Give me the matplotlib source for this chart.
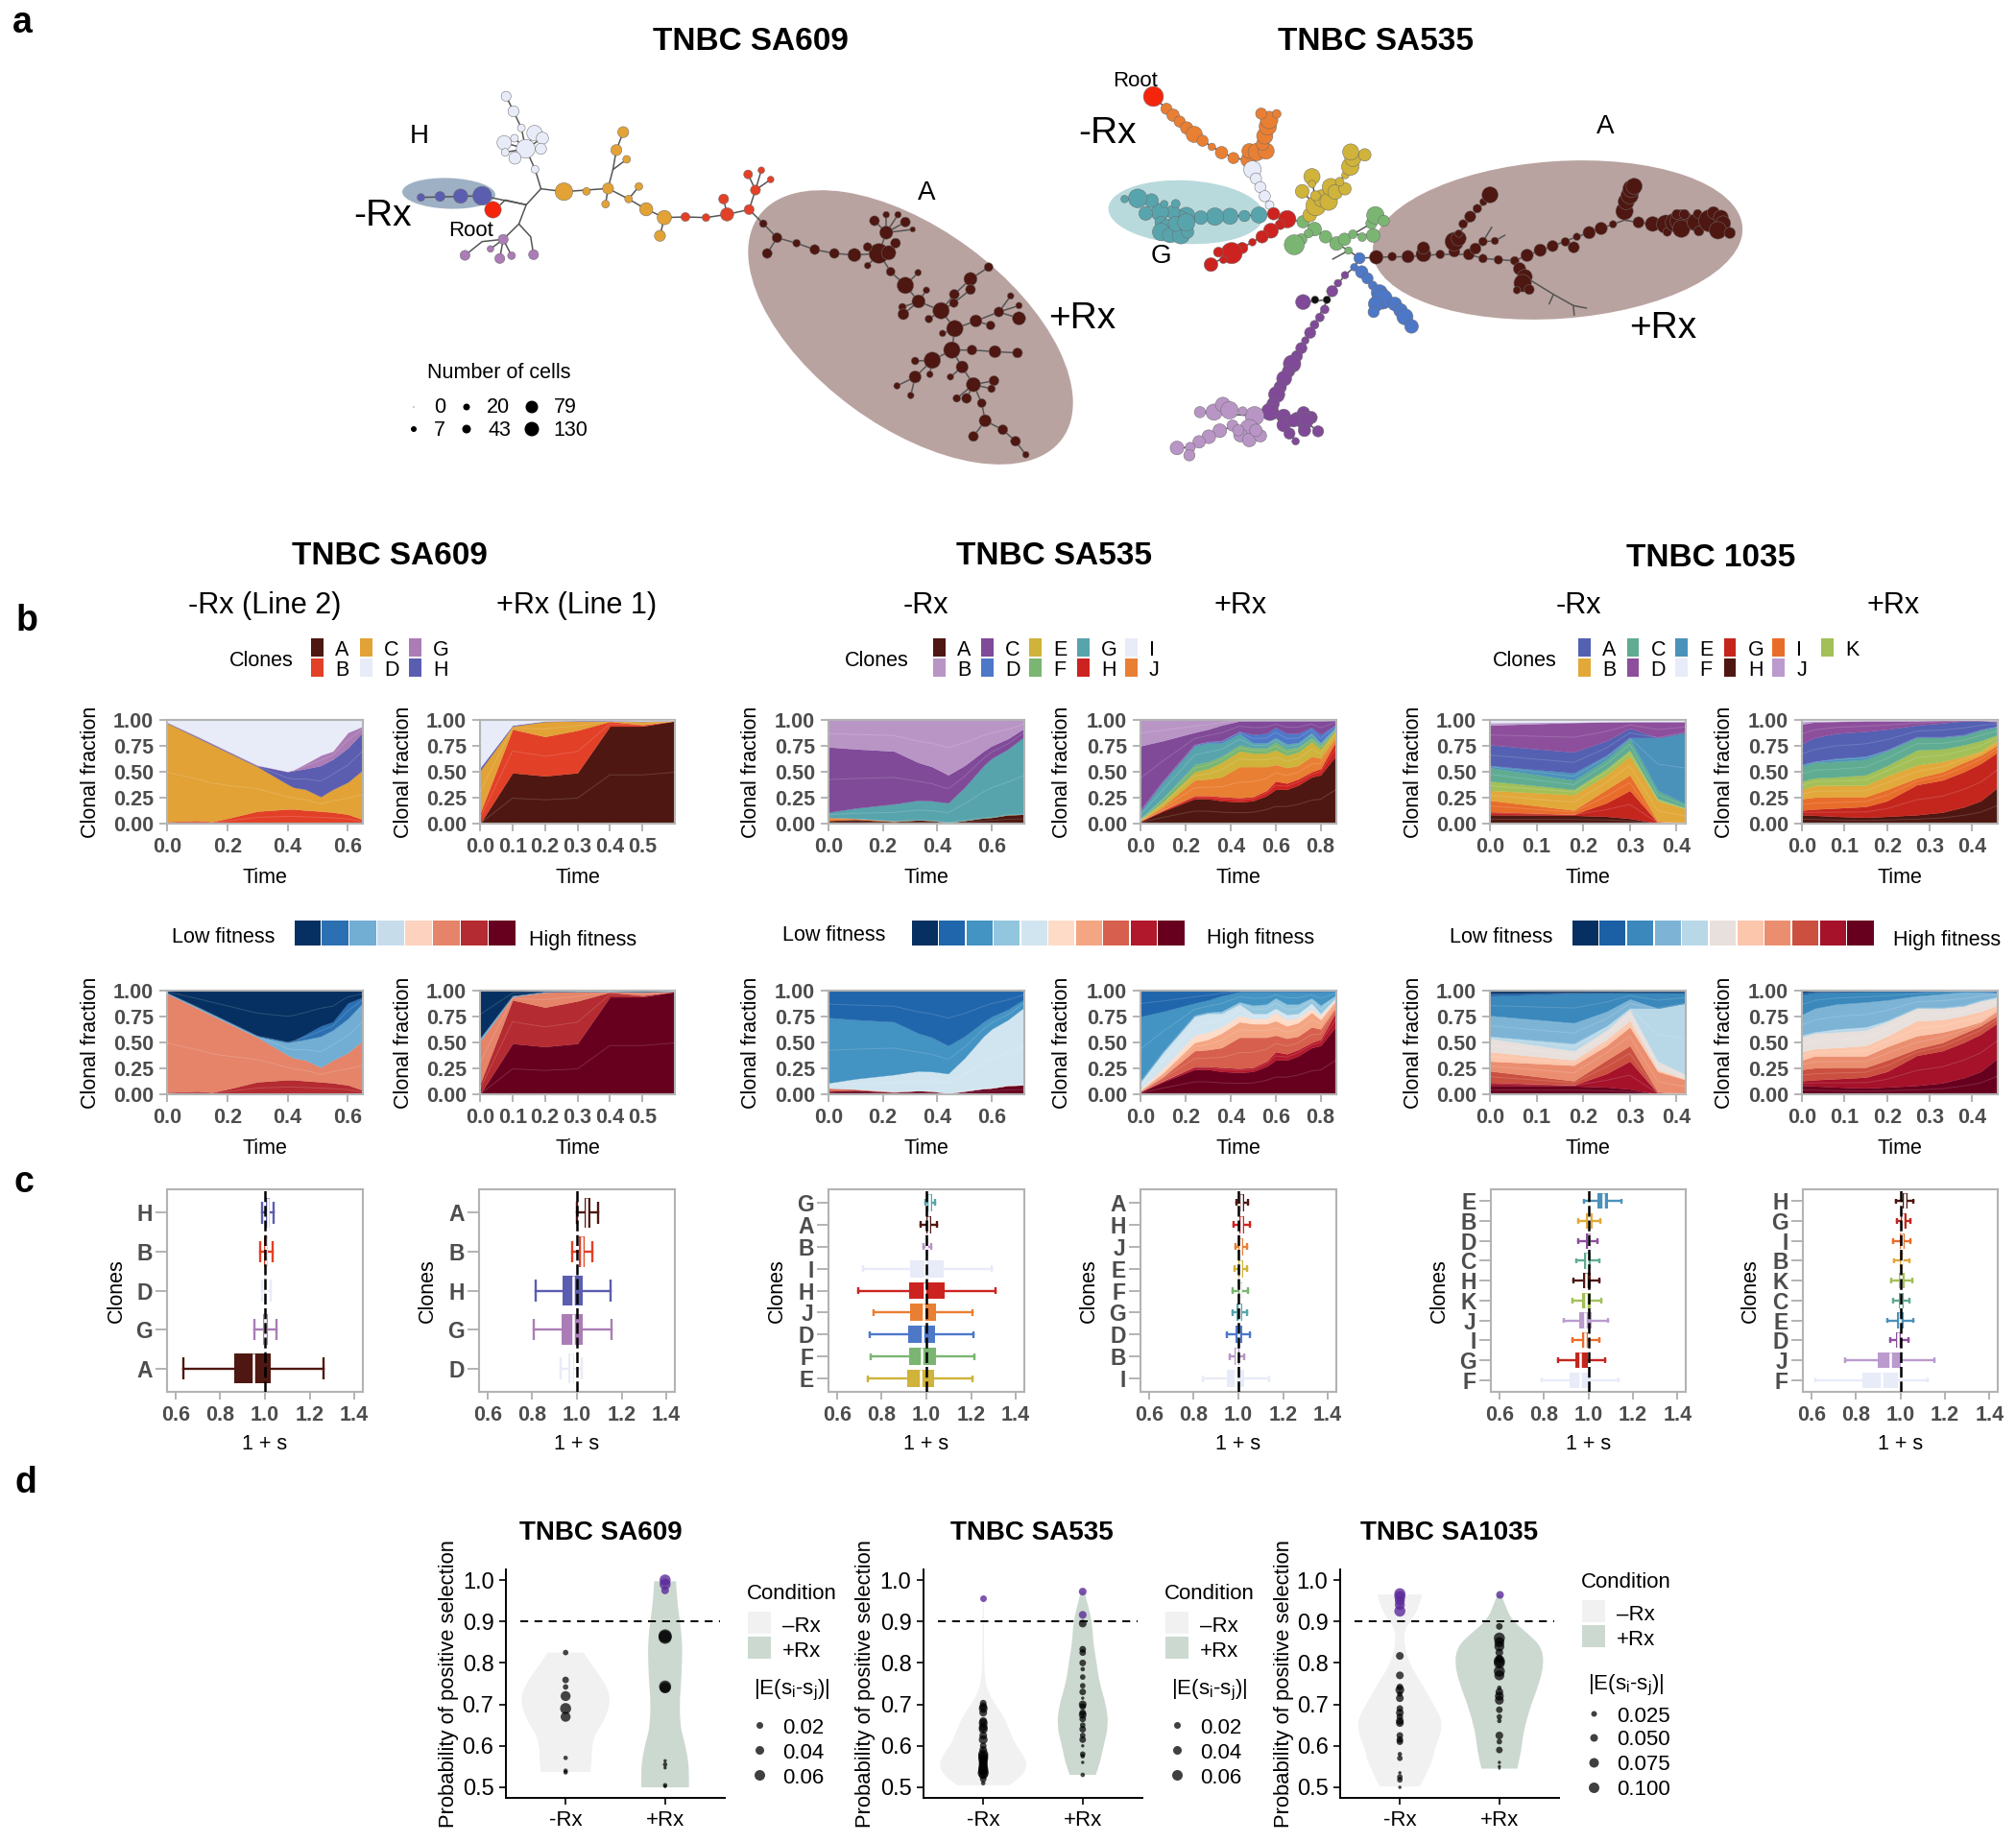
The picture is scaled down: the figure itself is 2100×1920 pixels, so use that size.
import matplotlib
matplotlib.use('Agg')
import matplotlib.pyplot as plt
from matplotlib.patches import Ellipse, Rectangle, PathPatch
from matplotlib.path import Path

plt.rcParams['font.family'] = ['Liberation Sans', 'DejaVu Sans']

W, H = 2100, 1920
PT = 0.72

# ---- clone colours
BROWN = '#4f1711'
PALE = '#e8ebf8'
SA609_COL = {'A': BROWN, 'B': '#e24027', 'C': '#e2a236', 'D': PALE, 'G': '#ab7cb6', 'H': '#5b5db0'}
SA535_COL = {'A': BROWN, 'B': '#b995c6', 'C': '#804a98', 'D': '#4d78c8', 'E': '#cfb33a', 'F': '#7ab672',
             'G': '#58a4ad', 'H': '#cd2320', 'I': PALE, 'J': '#e97f33'}
SA1035_COL = {'A': '#5460b2', 'B': '#e2a83a', 'C': '#5fac93', 'D': '#8d4f9c', 'E': '#4b92bb', 'F': PALE,
              'G': '#c4261e', 'H': BROWN, 'I': '#e86d2a', 'J': '#bb9bcd', 'K': '#a2c057'}

FIT8 = ['#053061', '#2b70b2', '#72aed4', '#c6dcea', '#fdd2be', '#e58469', '#b42b31', '#67001f']
FIT10 = ['#053061', '#2066ac', '#4393c3', '#92c5de', '#d1e5f0', '#fddbc7', '#f4a582', '#d6604d', '#b2182b', '#67001f']
FIT11 = ['#053061', '#1b5fa5', '#3a88bc', '#7db4d6', '#b8d8e8', '#e8e0dc', '#fbc6ab', '#eb8e70', '#cb5040', '#a5122a', '#67001f']

SA609_FIT = {'A': FIT8[7], 'B': FIT8[6], 'C': FIT8[5], 'H': FIT8[2], 'G': FIT8[1], 'D': FIT8[0]}
SA535_FIT = {'A': FIT10[9], 'H': FIT10[8], 'J': FIT10[7], 'E': FIT10[6], 'F': FIT10[5], 'G': FIT10[4],
             'D': FIT10[3], 'C': FIT10[2], 'B': FIT10[1], 'I': FIT10[0]}
SA1035_FIT = {'H': FIT11[10], 'G': FIT11[9], 'I': FIT11[8], 'B': FIT11[7], 'K': FIT11[6], 'C': FIT11[5],
              'E': FIT11[4], 'A': FIT11[3], 'D': FIT11[2], 'J': FIT11[1], 'F': FIT11[0]}

# ---- stacked clonal fractions, upper edge of every band, bottom band first
SA609_NEG_T = [0, .1, .15, .2, .3, .4, .42, .46, .51, .55, .6, .65]
SA609_NEG_ORDER = ['B', 'C', 'H', 'G', 'D']
SA609_NEG_TOPS = [
    [.02, .03, .02, .05, .12, .14, .14, .13, .12, .11, .09, .04],
    [.97, .83, .76, .69, .55, .38, .35, .33, .26, .33, .40, .52],
    [.975, .84, .77, .70, .56, .50, .51, .53, .56, .62, .73, .885],
    [.98, .845, .775, .705, .565, .505, .52, .58, .66, .70, .88, .94],
    [1, 1, 1, 1, 1, 1, 1, 1, 1, 1, 1, 1]]

SA609_POS_T = [0, .1, .2, .3, .4, .5, .6]
SA609_POS_ORDER = ['A', 'B', 'C', 'H', 'D']
SA609_POS_TOPS = [
    [0, .49, .46, .49, .94, .94, .99],
    [.10, .91, .84, .90, .985, .955, .99],
    [.51, .94, .985, .99, .99, .985, .995],
    [.54, .95, .99, .995, .995, .99, .995],
    [1, 1, 1, 1, 1, 1, 1]]

SA535_NEG_T = [0, .1, .24, .33, .38, .44, .5, .57, .6, .66, .72]
SA535_NEG_ORDER = ['A', 'J', 'G', 'C', 'B']
SA535_NEG_TOPS = [
    [.03, .04, .02, .035, .03, .01, .03, .055, .06, .085, .09],
    [.06, .05, .025, .035, .03, .01, .03, .055, .06, .085, .09],
    [.11, .15, .19, .225, .22, .20, .35, .56, .63, .72, .84],
    [.74, .72, .70, .59, .55, .47, .56, .70, .75, .82, .92],
    [1, 1, 1, 1, 1, 1, 1, 1, 1, 1, 1]]

SA535_POS_T = [0, .1, .24, .3, .36, .44, .5, .56, .6, .65, .7, .76, .8, .87]
SA535_POS_ORDER = ['A', 'H', 'J', 'E', 'F', 'G', 'D', 'C', 'B']
SA535_POS_TOPS = [
    [.02, .12, .24, .24, .22, .21, .22, .27, .33, .33, .37, .45, .47, .66],
    [.025, .13, .27, .27, .26, .25, .26, .32, .41, .39, .43, .50, .53, .80],
    [.03, .17, .42, .43, .45, .55, .55, .55, .57, .54, .56, .65, .63, .85],
    [.04, .21, .50, .53, .59, .70, .68, .68, .71, .66, .69, .79, .72, .91],
    [.05, .25, .57, .60, .65, .76, .73, .73, .79, .72, .74, .83, .76, .92],
    [.12, .40, .75, .78, .78, .87, .78, .78, .83, .77, .78, .88, .78, .94],
    [.125, .41, .76, .79, .80, .89, .86, .87, .93, .87, .87, .93, .86, .96],
    [.75, .80, .88, .91, .95, .99, .99, .99, .99, .99, .99, .99, .99, .995],
    [1, 1, 1, 1, 1, 1, 1, 1, 1, 1, 1, 1, 1, 1]]

SA1035_NEG_T = [0, .18, .25, .3, .36, .42]
SA1035_ORDER = ['H', 'G', 'I', 'B', 'K', 'C', 'E', 'A', 'D', 'J', 'F']
SA1035_NEG_TOPS = [
    [.085, .08, .07, .05, .005, 0],
    [.115, .09, .2, .32, .01, 0],
    [.225, .13, .33, .47, .025, .005],
    [.32, .28, .47, .65, .22, .14],
    [.41, .33, .53, .71, .24, .15],
    [.54, .42, .62, .82, .32, .19],
    [.56, .49, .66, .83, .83, .88],
    [.76, .69, .80, .92, .83, .88],
    [.95, .975, .98, .985, .985, .985],
    [.975, .98, .985, .985, .985, .985],
    [1, 1, 1, 1, 1, 1]]

SA1035_POS_T = [0, .03, .08, .15, .2, .27, .33, .38, .42, .46]
SA1035_POS_TOPS = [
    [.085, .08, .07, .06, .07, .085, .11, .16, .22, .35],
    [.13, .14, .15, .165, .22, .375, .42, .50, .58, .69],
    [.24, .255, .26, .26, .33, .44, .50, .59, .66, .76],
    [.33, .37, .37, .37, .46, .565, .60, .65, .70, .81],
    [.41, .44, .45, .47, .56, .71, .72, .76, .80, .86],
    [.55, .59, .60, .62, .70, .83, .83, .85, .90, .93],
    [.57, .60, .63, .65, .71, .835, .835, .855, .905, .94],
    [.77, .83, .87, .89, .91, .95, .97, .99, .99, .98],
    [.96, .98, .985, .99, .99, .99, .995, .995, .995, .985],
    [.985, .99, .99, .995, .995, .995, 1, 1, 1, 1],
    [1, 1, 1, 1, 1, 1, 1, 1, 1, 1]]

# ---- boxes: whisker low, q1, median, q3, whisker high, listed top to bottom
SA609_NEG_BOX_LABELS = ['H', 'B', 'D', 'G', 'A']
SA609_NEG_BOX = [[.986, 1.003, 1.012, 1.023, 1.04], [.977, .995, 1.005, 1.015, 1.033],
                 [.985, .995, 1.005, 1.012, 1.026], [.952, .99, 1.0, 1.015, 1.053],
                 [.636, .864, .95, 1.027, 1.262]]
SA609_POS_BOX_LABELS = ['A', 'B', 'H', 'G', 'D']
SA609_POS_BOX = [[1.0, 1.034, 1.045, 1.06, 1.094], [.98, 1.01, 1.022, 1.036, 1.067],
                 [.814, .937, .982, 1.025, 1.152], [.805, .933, .982, 1.025, 1.155],
                 [.928, .962, .975, .985, 1.022]]
SA535_NEG_BOX_LABELS = ['G', 'A', 'B', 'I', 'H', 'J', 'D', 'F', 'E']
SA535_NEG_BOX = [[.995, 1.006, 1.015, 1.024, 1.039], [.974, 1.0, 1.01, 1.02, 1.048],
                 [.985, .994, 1.001, 1.01, 1.022], [.717, .927, .997, 1.077, 1.29],
                 [.695, .921, .992, 1.08, 1.31], [.764, .929, .986, 1.042, 1.205],
                 [.746, .918, .983, 1.039, 1.209], [.751, .923, .979, 1.044, 1.214],
                 [.74, .914, .976, 1.035, 1.207]]
SA535_POS_BOX_LABELS = ['A', 'H', 'J', 'E', 'F', 'G', 'D', 'B', 'I']
SA535_POS_BOX = [[.993, 1.007, 1.014, 1.025, 1.042], [.98, 1.004, 1.013, 1.025, 1.05],
                 [.986, 1.0, 1.009, 1.02, 1.038], [.984, .998, 1.007, 1.02, 1.038],
                 [.975, .998, 1.007, 1.018, 1.043], [.975, .993, 1.004, 1.016, 1.038],
                 [.95, .986, .998, 1.016, 1.052], [.962, .982, .993, 1.004, 1.027],
                 [.841, .95, .986, 1.027, 1.136]]
SA1035_NEG_BOX_LABELS = ['E', 'B', 'D', 'C', 'H', 'K', 'J', 'I', 'G', 'F']
SA1035_NEG_BOX = [[.981, 1.04, 1.065, 1.089, 1.148], [.956, .99, 1.003, 1.019, 1.052],
                  [.956, .99, 1.0, 1.012, 1.042], [.946, .981, .993, 1.012, 1.049],
                  [.935, .977, .99, 1.009, 1.051], [.927, .974, .988, 1.01, 1.058],
                  [.888, .96, .986, 1.016, 1.087], [.928, .972, .986, .997, 1.049],
                  [.864, .941, .963, .998, 1.077], [.789, .916, .963, 1.009, 1.136]]
SA1035_POS_BOX_LABELS = ['H', 'G', 'I', 'B', 'K', 'C', 'E', 'D', 'J', 'F']
SA1035_POS_BOX = [[.981, 1.009, 1.019, 1.031, 1.059], [.984, 1.003, 1.012, 1.026, 1.047],
                  [.969, .998, 1.007, 1.019, 1.045], [.972, .997, 1.005, 1.017, 1.042],
                  [.96, .993, 1.003, 1.019, 1.052], [.969, .993, 1.003, 1.016, 1.042],
                  [.942, .984, .998, 1.016, 1.058], [.956, .981, .991, 1.003, 1.037],
                  [.752, .90, .953, 1.0, 1.154], [.619, .83, .916, .988, 1.122]]

# ---- violins: probability, half width
V609_NEG_Y = [.537, .56, .6, .63, .65, .68, .71, .74, .77, .8, .825]
V609_NEG_W = [.25, .26, .265, .30, .36, .42, .45, .42, .34, .25, .18]
V609_POS_Y = [.5, .53, .56, .6, .63, .65, .7, .75, .8, .85, .9, .95, .997]
V609_POS_W = [.24, .24, .235, .205, .17, .155, .145, .16, .17, .172, .15, .12, .11]
V535_NEG_Y = [.505, .52, .55, .58, .6, .64, .67, .7, .73, .76, .8, .9, .957]
V535_NEG_W = [.26, .36, .45, .40, .33, .26, .21, .12, .05, .02, .008, .008, .006]
V535_POS_Y = [.53, .55, .6, .65, .7, .75, .8, .85, .9, .95, .972]
V535_POS_W = [.13, .165, .21, .26, .235, .17, .14, .105, .095, .04, .02]
V1035_NEG_Y = [.502, .55, .6, .62, .66, .7, .75, .8, .85, .88, .9, .93, .965]
V1035_NEG_W = [.2, .31, .36, .4, .43, .34, .22, .09, .04, .05, .10, .19, .225]
V1035_POS_Y = [.545, .58, .62, .65, .7, .75, .8, .84, .87, .9, .93, .965]
V1035_POS_W = [.18, .215, .235, .26, .32, .4, .45, .42, .29, .14, .07, .02]

# ---- points: probability, dot size in pixels
P609_NEG = [(.825, 5), (.759, 6), (.742, 5), (.72, 9), (.69, 10), (.67, 9), (.571, 4), (.54, 4), (.536, 4)]
P609_POS = [(1.0, 10), (.99, 10), (.975, 7), (.865, 12), (.862, 12), (.743, 11), (.74, 10),
            (.564, 3), (.555, 4), (.547, 3), (.505, 4), (.502, 3)]
P535_NEG = [(.957, 6), (.703, 6), (.695, 7), (.69, 8), (.68, 7), (.66, 7), (.655, 8), (.645, 8), (.64, 8),
            (.625, 7), (.615, 8), (.6, 6), (.59, 7), (.58, 9), (.575, 9), (.57, 9), (.565, 8), (.56, 8),
            (.555, 8), (.55, 8), (.545, 9), (.54, 9), (.535, 10), (.53, 8), (.52, 6), (.51, 4)]
P535_POS = [(.972, 7), (.916, 7), (.895, 7), (.833, 6), (.825, 6), (.8, 6), (.785, 4), (.766, 5), (.745, 5),
            (.73, 6), (.715, 3), (.7, 7), (.695, 6), (.68, 6), (.675, 7), (.665, 6), (.65, 5), (.64, 6),
            (.625, 5), (.615, 6), (.6, 3), (.58, 5), (.575, 4), (.56, 3), (.53, 4)]
P1035_NEG = [(.967, 10), (.96, 10), (.95, 9), (.94, 9), (.925, 10), (.817, 7), (.77, 7), (.742, 6), (.735, 8),
             (.725, 5), (.715, 7), (.69, 6), (.68, 7), (.67, 6), (.66, 7), (.655, 7), (.625, 6), (.615, 6),
             (.61, 6), (.58, 4), (.57, 5), (.535, 3), (.525, 5), (.518, 5), (.5, 3)]
P1035_POS = [(.966, 7), (.888, 6), (.86, 10), (.85, 9), (.84, 9), (.825, 7), (.81, 7), (.805, 10), (.8, 10),
             (.78, 10), (.77, 9), (.74, 4), (.73, 7), (.72, 8), (.71, 8), (.687, 6), (.67, 5), (.66, 4),
             (.625, 7), (.61, 5), (.59, 6), (.56, 3), (.55, 3), (.545, 2)]

# ---- trees: x, y on the crop grid, dot size in pixels
T1_D = [(367, 121, 9), (382, 168, 10), (398, 220, 7), (425, 236, 14), (441, 252, 11), (363, 266, 13), (384, 252, 7),
        (407, 285, 17), (438, 285, 10), (365, 296, 7), (385, 314, 11), (426, 349, 7)]
T1_C = [(485, 419, 16), (531, 418, 7), (575, 409, 10), (606, 233, 10), (592, 289, 10), (613, 318, 7), (570, 458, 7),
        (617, 442, 7), (638, 403, 7), (653, 474, 12), (690, 500, 13), (681, 557, 10)]
T1_B = [(733, 498, 8), (775, 500, 7), (818, 490, 12), (863, 475, 9), (811, 442, 9), (876, 414, 9), (861, 365, 8),
        (888, 352, 6), (907, 381, 6)]
T1_H = [(193, 437, 7), (232, 434, 9), (274, 433, 13), (318, 432, 17)]
T1_ROOT = [(339, 474, 15)]
T1_G = [(361, 568, 9), (335, 598, 6), (283, 618, 9), (354, 628, 9), (378, 619, 7), (423, 616, 9)]
T1_A = [(892, 519, 7), (920, 563, 9), (900, 612, 9), (960, 580, 7), (997, 600, 9), (1037, 612, 9), (1078, 617, 12),
        (1128, 612, 18), (1148, 610, 13), (1105, 592, 8), (1105, 650, 6), (1143, 547, 12), (1119, 510, 9),
        (1143, 491, 6), (1167, 491, 6), (1182, 514, 9), (1197, 537, 5), (1162, 580, 9), (1152, 669, 8),
        (1182, 712, 15), (1208, 672, 6), (1209, 762, 12), (1225, 727, 6), (1176, 780, 7), (1178, 802, 10),
        (1255, 791, 15), (1230, 817, 7), (1282, 740, 9), (1281, 767, 8), (1315, 692, 12), (1352, 655, 8),
        (1315, 725, 9), (1283, 847, 15), (1258, 862, 6), (1326, 823, 11), (1356, 837, 8), (1373, 795, 9),
        (1397, 745, 6), (1414, 775, 6), (1414, 815, 12), (1277, 914, 15), (1318, 914, 9), (1365, 919, 11),
        (1411, 923, 9), (1237, 946, 15), (1202, 948, 7), (1202, 998, 11), (1232, 990, 6), (1165, 1026, 6),
        (1193, 1056, 6), (1298, 967, 11), (1274, 998, 6), (1321, 1022, 13), (1363, 1010, 9), (1358, 1035, 7),
        (1287, 1065, 7), (1307, 1065, 9), (1338, 1080, 8), (1345, 1135, 11), (1321, 1184, 9), (1381, 1163, 9),
        (1407, 1199, 9), (1428, 1241, 6)]
T1_EDGES = [
    [(193, 437), (318, 432), (408, 460)], [(355, 460), (365, 445), (408, 460)],
    [(408, 460), (438, 410), (485, 419), (575, 409), (617, 442), (653, 474), (690, 500), (733, 498), (775, 500),
     (818, 490), (863, 475), (892, 519), (920, 563), (960, 580), (997, 600), (1037, 612), (1078, 617), (1128, 612),
     (1152, 669), (1182, 712), (1209, 762), (1255, 791), (1283, 847), (1277, 914), (1298, 967), (1321, 1022),
     (1338, 1080), (1345, 1135), (1381, 1163), (1407, 1199), (1428, 1241)],
    [(408, 460), (393, 520), (361, 568), (335, 598)], [(361, 568), (318, 575), (283, 618)], [(361, 568), (354, 628)],
    [(361, 568), (378, 619)], [(393, 520), (417, 560), (423, 616)],
    [(438, 410), (426, 349), (407, 285), (398, 220), (382, 168), (367, 121)],
    [(407, 285), (425, 236)], [(407, 285), (441, 252)], [(407, 285), (363, 266)], [(407, 285), (384, 252)],
    [(407, 285), (438, 285)], [(407, 285), (365, 296)], [(407, 285), (385, 314)],
    [(575, 409), (585, 350), (592, 289), (606, 233)], [(585, 350), (613, 318)], [(575, 409), (570, 458)],
    [(617, 442), (638, 403)], [(690, 500), (681, 557)], [(818, 490), (811, 442)],
    [(863, 475), (876, 414), (861, 365)], [(876, 414), (888, 352)], [(876, 414), (907, 381)],
    [(920, 563), (900, 612)], [(1128, 612), (1105, 592)], [(1128, 612), (1105, 650)],
    [(1128, 612), (1143, 547), (1119, 510)], [(1143, 547), (1143, 491)], [(1143, 547), (1167, 491)],
    [(1143, 547), (1182, 514)], [(1143, 547), (1197, 537)], [(1128, 612), (1162, 580)], [(1182, 712), (1208, 672)],
    [(1209, 762), (1225, 727)], [(1209, 762), (1176, 780)], [(1209, 762), (1178, 802)], [(1255, 791), (1230, 817)],
    [(1255, 791), (1282, 740), (1315, 692), (1352, 655)], [(1255, 791), (1281, 767), (1315, 725)],
    [(1283, 847), (1258, 862)], [(1283, 847), (1326, 823), (1373, 795), (1397, 745)], [(1326, 823), (1356, 837)],
    [(1373, 795), (1414, 775)], [(1373, 795), (1414, 815)], [(1277, 914), (1318, 914), (1365, 919), (1411, 923)],
    [(1277, 914), (1237, 946), (1202, 948)], [(1237, 946), (1202, 998), (1165, 1026)], [(1202, 998), (1193, 1056)],
    [(1237, 946), (1232, 990)], [(1298, 967), (1274, 998)], [(1321, 1022), (1363, 1010)], [(1321, 1022), (1358, 1035)],
    [(1321, 1022), (1287, 1065)], [(1321, 1022), (1307, 1065)], [(1345, 1135), (1321, 1184)]]

T2_ROOT = [(177, 151, 16)]
T2_J = [(207, 190, 9), (222, 210, 10), (237, 230, 9), (253, 250, 10), (270, 270, 13), (289, 290, 9), (310, 309, 6),
        (332, 327, 10), (359, 344, 9), (393, 350, 12), (395, 322, 12), (412, 325, 14), (433, 322, 13), (425, 300, 10),
        (430, 275, 13), (437, 245, 14), (440, 225, 14), (422, 205, 9), (457, 206, 7)]
T2_I = [(402, 380, 14), (410, 408, 9), (420, 435, 9), (430, 463, 9), (441, 491, 7)]
T2_H = [(450, 518, 10), (481, 535, 14), (465, 552, 8), (444, 571, 12), (424, 590, 10), (402, 607, 6), (379, 625, 9),
        (355, 641, 17), (325, 638, 8), (336, 662, 6), (308, 677, 11)]
T2_G = [(417, 522, 13), (384, 525, 9), (351, 526, 13), (317, 527, 14), (285, 530, 11), (252, 525, 14), (238, 540, 16),
        (222, 513, 11), (192, 513, 14), (160, 517, 11), (228, 487, 7), (202, 488, 6), (173, 477, 11), (142, 470, 15),
        (112, 472, 6), (195, 545, 10), (210, 560, 13), (240, 565, 14), (195, 575, 14), (215, 585, 12), (240, 585, 14),
        (255, 575, 10), (228, 550, 12), (252, 545, 14)]
T2_F = [(517, 543, 10), (543, 566, 11), (529, 580, 7), (513, 598, 9), (497, 615, 16), (568, 590, 10), (593, 611, 11),
        (611, 598, 10), (630, 582, 7), (651, 591, 7), (676, 586, 11), (672, 548, 9), (681, 523, 14), (700, 540, 9),
        (620, 633, 6)]
T2_E = [(532, 522, 11), (546, 493, 16), (560, 470, 14), (575, 480, 14), (537, 402, 13), (537, 425, 6), (515, 448, 11),
        (580, 435, 14), (590, 450, 12), (545, 462, 8), (612, 440, 10), (600, 418, 7), (613, 397, 6), (624, 371, 14),
        (630, 345, 13), (625, 325, 13), (657, 334, 10)]
T2_D = [(645, 657, 9), (633, 685, 6), (650, 700, 10), (663, 720, 9), (675, 742, 7), (690, 765, 13), (697, 785, 16),
        (682, 800, 12), (677, 825, 9), (725, 800, 11), (738, 820, 11), (748, 840, 13), (763, 870, 11)]
T2_C = [(612, 710, 6), (596, 735, 6), (583, 760, 9), (517, 794, 12), (566, 817, 7), (555, 842, 7), (543, 865, 7),
        (533, 890, 9), (522, 914, 6), (513, 938, 9), (503, 963, 9), (492, 987, 14), (484, 1010, 10), (474, 1033, 12),
        (465, 1060, 10), (457, 1083, 13), (449, 1112, 10), (442, 1137, 14), (473, 1150, 11), (473, 1178, 11),
        (486, 1205, 9), (500, 1229, 6), (503, 1160, 11), (518, 1140, 10), (535, 1155, 10), (520, 1165, 14),
        (520, 1195, 10), (495, 1165, 10), (551, 1198, 9)]
T2_BLACK = [(544, 787, 6), (571, 787, 6)]
T2_B = [(407, 1150, 15), (395, 1190, 15), (380, 1135, 7), (357, 1180, 9), (328, 1196, 11), (303, 1215, 11),
        (281, 1231, 10), (261, 1248, 8), (259, 1273, 9), (231, 1250, 11), (283, 1138, 9), (315, 1138, 13),
        (335, 1115, 12), (350, 1132, 14), (375, 1210, 11), (395, 1225, 11), (420, 1212, 10), (410, 1195, 10),
        (370, 1195, 9)]
T2_A = [(683, 654, 11), (719, 652, 7), (755, 652, 10), (790, 645, 12), (790, 625, 10), (828, 645, 7), (860, 636, 9),
        (893, 645, 9), (925, 658, 7), (960, 662, 7), (997, 665, 7), (1025, 648, 10), (1055, 632, 10), (1083, 619, 9),
        (1112, 606, 7), (1131, 623, 9), (1138, 590, 6), (1166, 577, 10), (1193, 564, 10), (1220, 551, 6),
        (1278, 545, 9), (1310, 550, 12), (1340, 551, 15), (1343, 575, 7), (1360, 545, 15), (1375, 540, 18),
        (1375, 565, 14), (1365, 520, 8), (1382, 520, 8), (1408, 545, 14), (1412, 518, 7), (1415, 572, 8),
        (1440, 540, 18), (1448, 515, 10), (1465, 530, 12), (1470, 548, 12), (1458, 570, 14), (1485, 578, 9),
        (1246, 510, 14), (1250, 480, 13), (1258, 460, 14), (1262, 440, 14), (1268, 432, 13), (908, 627, 9),
        (925, 605, 7), (952, 603, 6), (860, 605, 15), (870, 595, 12), (870, 580, 6), (880, 550, 7), (896, 527, 9),
        (912, 502, 7), (926, 481, 6), (941, 459, 13), (1008, 690, 10), (1020, 715, 12), (1015, 735, 14),
        (1030, 755, 8), (1002, 757, 6)]
T2_EDGES = [
    [(177, 151), (207, 190), (237, 230), (270, 270), (310, 309), (359, 344), (393, 350), (402, 380), (420, 435),
     (441, 491), (450, 518), (481, 535), (517, 543), (543, 566), (568, 590), (593, 611), (620, 633), (645, 657),
     (683, 654), (755, 652), (828, 645), (893, 645), (925, 658), (997, 665), (1025, 648), (1083, 619), (1138, 590),
     (1193, 564), (1246, 538), (1278, 545), (1340, 551), (1408, 545), (1485, 578)],
    [(393, 350), (412, 325), (430, 275), (440, 225), (422, 205)], [(440, 225), (457, 206)],
    [(450, 518), (417, 522), (351, 526), (285, 530), (252, 525), (192, 513), (160, 517)],
    [(222, 513), (173, 477), (112, 472)],
    [(481, 535), (444, 571), (402, 607), (355, 641), (308, 677)], [(355, 641), (325, 638)],
    [(517, 543), (532, 522), (546, 493), (580, 435), (613, 397), (625, 325), (657, 334)],
    [(546, 493), (537, 402)], [(546, 493), (515, 448)], [(543, 566), (497, 615)],
    [(593, 611), (630, 582), (676, 586)], [(611, 598), (672, 548), (681, 523)], [(672, 548), (700, 540)],
    [(584, 660), (620, 633)],
    [(645, 657), (633, 685), (612, 710), (583, 760), (533, 890), (492, 987), (449, 1112), (442, 1137), (473, 1178),
     (500, 1229)], [(571, 787), (517, 794)], [(442, 1137), (520, 1165), (551, 1198)],
    [(442, 1137), (407, 1150), (395, 1190), (357, 1180), (261, 1248), (231, 1250)], [(261, 1248), (259, 1273)],
    [(407, 1150), (283, 1138)], [(633, 685), (650, 700), (690, 765), (677, 825)], [(690, 765), (763, 870)],
    [(860, 636), (870, 580), (941, 459)], [(893, 645), (908, 627), (925, 605), (945, 560)],
    [(925, 605), (952, 603), (975, 585)], [(997, 665), (1020, 715), (1085, 770), (1130, 805), (1160, 813)],
    [(1085, 770), (1075, 800)], [(1130, 805), (1132, 835)], [(1246, 538), (1262, 440)], [(1112, 606), (1131, 623)]]

SIZE_LEGEND_VALUES = ['0', '7', '20', '43', '79', '130']

GREY = '#b3b3b3'
TICK_GREY = '#4d4d4d'

fig = plt.figure(figsize=(W / 100, H / 100), dpi=100)


def px_axes(l, t, r, b, **kw):
    return fig.add_axes([l / W, 1 - b / H, (r - l) / W, (b - t) / H], **kw)


# whole page overlay for the loose labels, legends and shaded ellipses
page = px_axes(0, 0, W, H)
page.set_xlim(0, W)
page.set_ylim(H, 0)
page.axis('off')


def txt(x, y, s, size=15, ha='center', va='center', **kw):
    # Liberation centres about 3 px higher than the reference font
    page.text(x, y + 3, s, fontsize=size, ha=ha, va=va, color=kw.pop('color', 'black'), **kw)


def draw_tree(ax, nodes_cols, edges, grow):
    for e in edges:
        ax.plot([p[0] for p in e], [p[1] for p in e], color='#555555', lw=1.1, zorder=1, solid_capstyle='round')
    for nodes, col in nodes_cols:
        ax.scatter([n[0] for n in nodes], [n[1] for n in nodes], s=[(n[2] * grow * PT) ** 2 for n in nodes],
                   color=col, edgecolor='#6b6b6b', linewidth=0.35, zorder=2)


def style_area(ax):
    for s in ax.spines.values():
        s.set_color(GREY)
        s.set_linewidth(1.5)
    ax.tick_params(axis='both', length=6, width=1.4, color=GREY, labelcolor=TICK_GREY, labelsize=15.5, pad=4)
    for t in ax.get_xticklabels() + ax.get_yticklabels():
        t.set_fontweight('bold')


def area_panel(box, times, order, tops, colours, xticks, ylab_x):
    ax = px_axes(*box)
    prev = [0] * len(times)
    for name, top in zip(order, tops):
        ax.fill_between(times, prev, top, color=colours[name], lw=0.2, zorder=2)
        mid = [(a + b) / 2 for a, b in zip(prev, top)]
        ax.plot(times, mid, color='white', alpha=0.16, lw=0.7, zorder=3)
        prev = top
    ax.set_xlim(0, times[-1])
    ax.set_ylim(0, 1)
    ax.set_xticks(xticks)
    ax.set_xticklabels(['%.1f' % v for v in xticks])
    ax.set_yticks([0, .25, .5, .75, 1])
    ax.set_yticklabels(['0.00', '0.25', '0.50', '0.75', '1.00'])
    ax.set_xlabel('Time', fontsize=15.5, va='center')
    ax.set_ylabel('Clonal fraction', fontsize=15.5, va='center')
    ax.xaxis.set_label_coords(0.5, -56 / (box[3] - box[1]))
    ax.yaxis.set_label_coords((ylab_x - box[0]) / (box[2] - box[0]), 0.5)
    style_area(ax)
    return ax


def box_panel(box, labels, stats, colours, ylab_x):
    ax = px_axes(*box)
    n = len(labels)
    for i, (name, st) in enumerate(zip(labels, stats)):
        y = n - i
        col = colours[name]
        ax.plot([st[0], st[4]], [y, y], color=col, lw=1.7, zorder=2)
        ax.vlines([st[0], st[4]], y - 0.25 * 5 / n * 1.1, y + 0.25 * 5 / n * 1.1, color=col, lw=1.7, zorder=2)
        ax.barh(y, st[3] - st[1], left=st[1], height=0.78, color=col, zorder=3)
        ax.vlines(st[2], y - 0.39, y + 0.39, color='white', lw=1.8, zorder=4)
    ax.axvline(1, color='black', lw=1.8, dashes=(4.5, 1.6), zorder=5)
    ax.set_xlim(0.562, 1.438)
    ax.set_ylim(0.4, n + 0.6)
    ax.set_yticks([n - i for i in range(n)])
    ax.set_yticklabels(labels)
    ax.set_xticks([.6, .8, 1, 1.2, 1.4])
    ax.set_xticklabels(['0.6', '0.8', '1.0', '1.2', '1.4'])
    ax.set_xlabel('1 + s', fontsize=15.5, va='center')
    ax.set_ylabel('Clones', fontsize=15.5, va='center')
    ax.xaxis.set_label_coords(0.5, -55 / (box[3] - box[1]))
    ax.yaxis.set_label_coords((ylab_x - box[0]) / (box[2] - box[0]), 0.5)
    style_area(ax)
    ax.tick_params(axis='y', labelsize=16.5, length=9, pad=2)
    return ax


def violin_shape(ax, pos, ys, ws, col):
    # smooth outline through the read widths (midpoints on the curve, readings as controls)
    right = list(zip([pos + w for w in ws], ys))
    left = list(zip([pos - w for w in ws], ys))[::-1]
    verts = [right[0]]
    codes = [Path.MOVETO]
    for side in (right, left):
        if side is left:
            verts.append(side[0])
            codes.append(Path.LINETO)
        for k in range(1, len(side) - 1):
            mid = ((side[k][0] + side[k + 1][0]) / 2, (side[k][1] + side[k + 1][1]) / 2)
            if k == len(side) - 2:
                mid = side[k + 1]
            verts += [side[k], mid]
            codes += [Path.CURVE3, Path.CURVE3]
    verts.append(verts[0])
    codes.append(Path.CLOSEPOLY)
    ax.add_patch(PathPatch(Path(verts, codes), facecolor=col, edgecolor='none', zorder=1))


def violin_panel(box, title, title_x, ylab_x, neg_shape, pos_shape, neg_pts, pos_pts):
    ax = px_axes(*box)
    violin_shape(ax, 1, neg_shape[0], neg_shape[1], '#f1f1f1')
    violin_shape(ax, 2, pos_shape[0], pos_shape[1], '#ccd9d0')
    for pos, pts in ((1, neg_pts), (2, pos_pts)):
        high = [p for p in pts if p[0] > 0.9]
        low = [p for p in pts if p[0] <= 0.9]
        ax.scatter([pos] * len(low), [p[0] for p in low], s=[(p[1] * 1.15 * PT) ** 2 for p in low],
                   color='black', alpha=0.72, linewidth=0, zorder=3)
        ax.scatter([pos] * len(high), [p[0] for p in high], s=[(p[1] * 1.15 * PT) ** 2 for p in high],
                   color='#5b2a9a', alpha=0.8, linewidth=0, zorder=3)
    ax.plot([0.54, 2.555], [0.9, 0.9], color='black', lw=1.4, dashes=(4.2, 3.4), zorder=4)
    ax.set_xlim(0.4, 2.6)
    ax.set_ylim(0.4745, 1.0255)
    ax.set_xticks([1, 2])
    ax.set_xticklabels(['-Rx', '+Rx'])
    ax.set_yticks([.5, .6, .7, .8, .9, 1.0])
    ax.set_yticklabels(['0.5', '0.6', '0.7', '0.8', '0.9', '1.0'])
    ax.patch.set_alpha(0)
    for s in ('top', 'right'):
        ax.spines[s].set_visible(False)
    for s in ('left', 'bottom'):
        ax.spines[s].set_linewidth(1.4)
    ax.tick_params(axis='y', length=5, width=1.2, labelsize=17, colors='black', pad=4)
    ax.tick_params(axis='x', length=5, width=1.2, labelsize=16, colors='black', pad=4)
    ax.set_ylabel('Probability of positive selection', fontsize=15.8, va='center')
    ax.yaxis.set_label_coords((ylab_x - box[0]) / (box[2] - box[0]), (box[3] - 1754) / (box[3] - box[1]))
    txt(title_x, 1594, title, size=20, fontweight='bold')
    return ax


def violin_legend(x, y_cond, y_e, y_pts, size_labels, size_px):
    txt(x, y_cond, 'Condition', ha='left', size=16)
    page.add_patch(Rectangle((x + 1, y_cond + 22), 23.5, 23, color='#f1f1f1', lw=0))
    page.add_patch(Rectangle((x + 1, y_cond + 48), 23.5, 23, color='#ccd9d0', lw=0))
    txt(x + 37, y_cond + 34, '\u2013Rx', ha='left', size=16)
    txt(x + 37, y_cond + 60, '+Rx', ha='left', size=16)
    txt(x + 7, y_e, '|E(s$_{\\mathregular{i}}$-s$_{\\mathregular{j}}$)|', ha='left', size=16)
    for y, lab, d in zip(y_pts, size_labels, size_px):
        page.scatter([x + 13], [y], s=(d * PT) ** 2, color='black', alpha=0.75, linewidth=0)
        txt(x + 37, y, lab, ha='left', size=16)


def clone_legend(lab_x, sw_x, step, names, colours):
    txt(lab_x, 685, 'Clones', ha='left', size=15.5)
    for i, name in enumerate(names):
        col, row = i // 2, i % 2
        x = sw_x + col * step
        y = 665 + row * 20.5
        page.add_patch(Rectangle((x, y), 12.5, 19, color=colours[name], lw=0))
        txt(x + 25, y + 9.5, name, ha='left', size=15.5)


def fitness_legend(low_x, x0, x1, high_x, cols, y_low, y_high):
    txt(low_x, y_low, 'Low fitness', ha='left', size=15.5)
    txt(high_x, y_high, 'High fitness', ha='left', size=15.5)
    step = (x1 - x0) / len(cols)
    for i, c in enumerate(cols):
        page.add_patch(Rectangle((x0 + i * step, 958.5), step - 1.5, 26.5, color=c, lw=0))


# ---- panel letters and headings
for x, y, s in [(23, 21, 'a'), (28, 644, 'b'), (25, 1229, 'c'), (27, 1542, 'd')]:
    txt(x, y, s, size=27, fontweight='bold')
for x, y, s in [(782, 41, 'TNBC SA609'), (1433, 40, 'TNBC SA535'), (406, 577, 'TNBC SA609'),
                (1098, 577, 'TNBC SA535'), (1782, 578, 'TNBC 1035')]:
    txt(x, y, s, size=24, fontweight='bold')
for x, s in [(276, '-Rx (Line 2)'), (601, '+Rx (Line 1)'), (964, '-Rx'), (1292, '+Rx'), (1644, '-Rx'), (1972, '+Rx')]:
    txt(x, 628, s, size=22)

# ---- panel a
page.add_patch(Ellipse((467.5, 201.5), 97, 32, angle=2, color='#9eb0c4', lw=0))
page.add_patch(Ellipse((948.5, 341), 392, 206, angle=36.4, color='#b9a3a0', lw=0))
page.add_patch(Ellipse((1235.5, 221), 162, 66, angle=3, color='#b8dadc', lw=0))
page.add_patch(Ellipse((1622.5, 250), 386, 164, angle=-4, color='#b9a3a0', lw=0))

tree1 = px_axes(340, 60, 1140, 500)
tree1.set_xlim(0, 1568)
tree1.set_ylim(1320, 0)
tree1.axis('off')
draw_tree(tree1, [(T1_D, PALE), (T1_C, SA609_COL['C']), (T1_B, SA609_COL['B']), (T1_H, SA609_COL['H']),
                  (T1_ROOT, '#f5250c'), (T1_G, SA609_COL['G']), (T1_A, BROWN)], T1_EDGES, 1.15)

tree2 = px_axes(1120, 50, 1840, 500)
tree2.set_xlim(0, 1568)
tree2.set_ylim(1350, 0)
tree2.axis('off')
draw_tree(tree2, [(T2_ROOT, '#f5250c'), (T2_J, SA535_COL['J']), (T2_I, PALE), (T2_H, SA535_COL['H']),
                  (T2_G, SA535_COL['G']), (T2_F, SA535_COL['F']), (T2_E, SA535_COL['E']), (T2_D, SA535_COL['D']),
                  (T2_C, SA535_COL['C']), (T2_BLACK, '#111111'), (T2_B, SA535_COL['B']), (T2_A, BROWN)], T2_EDGES, 1.3)

for x, y, s, size in [(437, 139, 'H', 20), (399, 222, '-Rx', 28), (491, 238, 'Root', 16), (965, 198, 'A', 20),
                      (1127, 329, '+Rx', 28), (1183, 81, 'Root', 16), (1154, 136, '-Rx', 28), (1209, 264, 'G', 20),
                      (1672, 129, 'A', 20), (1732, 339, '+Rx', 28)]:
    txt(x, y, s, size=size)

txt(520, 385, 'Number of cells', size=15.5)
size_x = [431, 431, 486, 486, 554, 554]
size_y = [424, 447, 424, 447, 424, 447]
size_d = [1, 6, 7, 9, 13, 15]
lab_x = [458, 458, 519, 520, 589, 594]
page.scatter(size_x, size_y, s=[(d * PT) ** 2 for d in size_d], color='black', linewidth=0)
for x, y, s in zip(lab_x, size_y, SIZE_LEGEND_VALUES):
    txt(x, y - 2, s, size=15.5)

# ---- panel b legends
clone_legend(239, 324, 51, ['A', 'B', 'C', 'D', 'G', 'H'], SA609_COL)
clone_legend(880, 972, 50, ['A', 'B', 'C', 'D', 'E', 'F', 'G', 'H', 'I', 'J'], SA535_COL)
clone_legend(1555, 1644, 50.6, ['A', 'B', 'C', 'D', 'E', 'F', 'G', 'H', 'I', 'J', 'K'], SA1035_COL)
fitness_legend(179, 306.5, 538, 551, FIT8, 973, 977)
fitness_legend(815, 949.5, 1235, 1257, FIT10, 971.5, 975)
fitness_legend(1510, 1637.5, 1953, 1972, FIT11, 973, 977)

# ---- panel b charts
COLUMNS = [(174, 378, SA609_NEG_T, SA609_NEG_ORDER, SA609_NEG_TOPS, SA609_COL, SA609_FIT, [0, .2, .4, .6], 95),
           (500, 703, SA609_POS_T, SA609_POS_ORDER, SA609_POS_TOPS, SA609_COL, SA609_FIT, [0, .1, .2, .3, .4, .5], 420),
           (863, 1067, SA535_NEG_T, SA535_NEG_ORDER, SA535_NEG_TOPS, SA535_COL, SA535_FIT, [0, .2, .4, .6], 783),
           (1188, 1392, SA535_POS_T, SA535_POS_ORDER, SA535_POS_TOPS, SA535_COL, SA535_FIT, [0, .2, .4, .6, .8], 1107),
           (1552, 1756, SA1035_NEG_T, SA1035_ORDER, SA1035_NEG_TOPS, SA1035_COL, SA1035_FIT, [0, .1, .2, .3, .4], 1473),
           (1877, 2081, SA1035_POS_T, SA1035_ORDER, SA1035_POS_TOPS, SA1035_COL, SA1035_FIT, [0, .1, .2, .3, .4], 1797)]
for l, r, t, order, tops, cols, fits, ticks, yl in COLUMNS:
    area_panel((l, 750, r, 858), t, order, tops, cols, ticks, yl)
    area_panel((l, 1032, r, 1140), t, order, tops, fits, ticks, yl)

# ---- panel c
box_panel((174, 1239, 378, 1450), SA609_NEG_BOX_LABELS, SA609_NEG_BOX, SA609_COL, 121)
box_panel((499, 1239, 703, 1450), SA609_POS_BOX_LABELS, SA609_POS_BOX, SA609_COL, 445)
box_panel((863, 1239, 1067, 1450), SA535_NEG_BOX_LABELS, SA535_NEG_BOX, SA535_COL, 809)
box_panel((1188, 1239, 1392, 1450), SA535_POS_BOX_LABELS, SA535_POS_BOX, SA535_COL, 1134)
box_panel((1553, 1239, 1756, 1450), SA1035_NEG_BOX_LABELS, SA1035_NEG_BOX, SA1035_COL, 1499)
box_panel((1878, 1239, 2081, 1450), SA1035_POS_BOX_LABELS, SA1035_POS_BOX, SA1035_COL, 1823)

# ---- panel d
violin_panel((527, 1635, 755, 1873), 'TNBC SA609', 626, 467, (V609_NEG_Y, V609_NEG_W), (V609_POS_Y, V609_POS_W), P609_NEG, P609_POS)
violin_panel((962, 1635, 1190, 1873), 'TNBC SA535', 1075, 901, (V535_NEG_Y, V535_NEG_W), (V535_POS_Y, V535_POS_W), P535_NEG, P535_POS)
violin_panel((1396, 1635, 1624, 1873), 'TNBC SA1035', 1510, 1337, (V1035_NEG_Y, V1035_NEG_W), (V1035_POS_Y, V1035_POS_W), P1035_NEG, P1035_POS)
violin_legend(778, 1657, 1758, [1797, 1823, 1849], ['0.02', '0.04', '0.06'], [7, 9, 11])
violin_legend(1213, 1657, 1758, [1797, 1823, 1849], ['0.02', '0.04', '0.06'], [7, 9, 11])
violin_legend(1647, 1645, 1753, [1785, 1810, 1836, 1862], ['0.025', '0.050', '0.075', '0.100'], [6, 8, 10, 11])

fig.savefig('out.png', dpi=100)
